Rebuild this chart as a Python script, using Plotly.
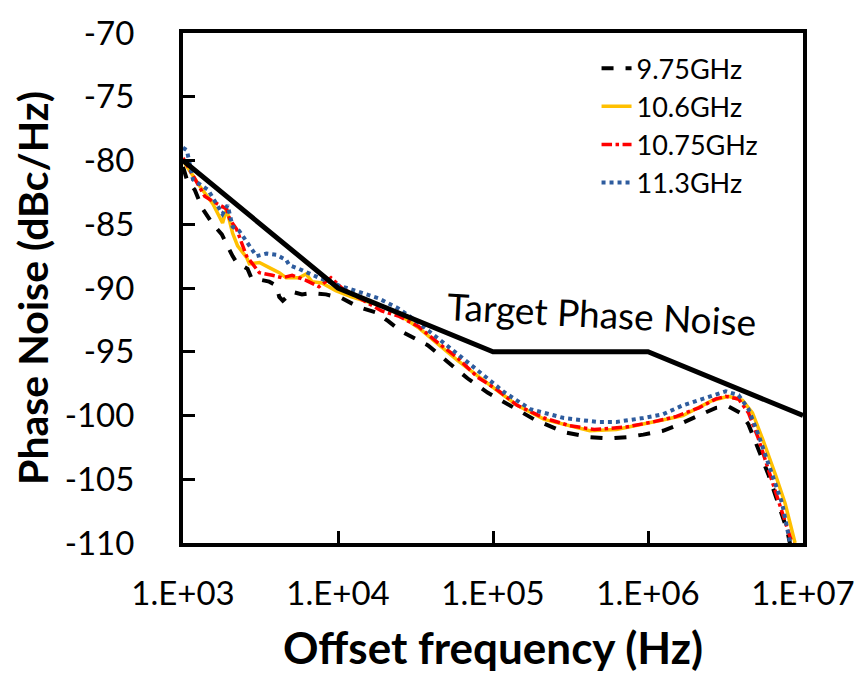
import plotly.graph_objects as go

# ---------------- data ----------------
f_975 = [1.0e3, 1.06e3, 1.19e3, 1.34e3, 1.56e3, 1.78e3, 2.09e3, 2.22e3, 2.61e3, 2.76e3,
         3.6e3, 4.0e3, 4.18e3, 4.4e3, 5.06e3, 5.86e3, 6.79e3, 8.35e3, 1.06e4, 1.36e4,
         1.74e4, 2.11e4, 2.56e4, 3.81e4, 5.11e4, 6.87e4, 9.22e4, 1.29e5, 1.84e5, 2.87e5,
         4.21e5, 5.65e5, 7.26e5, 9.33e5, 1.25e6, 1.52e6, 2.13e6, 2.74e6, 3.31e6, 3.95e6,
         4.45e6, 5.15e6, 5.97e6, 6.92e6, 7.9e6, 8.4e6]
pn_975 = [-80.5, -81.5, -82.3, -83.8, -85.0, -85.8, -87.5, -88.0, -88.5, -89.2,
          -89.5, -89.8, -90.7, -91.0, -90.3, -90.5, -90.4, -90.5, -90.8, -91.5,
          -91.9, -92.6, -93.4, -94.5, -95.8, -97.1, -98.2, -99.2, -100.3, -101.3,
          -101.7, -101.8, -101.7, -101.5, -101.2, -100.8, -100.0, -99.4, -99.3, -99.8,
          -100.7, -102.6, -104.6, -106.9, -109.0, -110.5]

f_106 = [1.0e3, 1.28e3, 1.56e3, 1.80e3, 1.91e3, 2.09e3, 2.25e3, 2.57e3, 2.68e3, 3.11e3,
         3.6e3, 4.18e3, 4.63e3, 5.61e3, 6.22e3, 6.79e3, 7.87e3, 9.67e3, 1.22e4, 1.57e4,
         2.02e4, 2.56e4, 3.29e4, 4.42e4, 5.93e4, 7.96e4, 1.07e5, 1.43e5, 2.14e5, 3.13e5,
         4.21e5, 6.26e5, 9.33e5, 1.31e6, 1.68e6, 2.62e6, 3.31e6, 4.07e6, 4.72e6, 5.47e6,
         6.62e6, 7.67e6, 8.89e6]
pn_106 = [-80.0, -82.0, -83.4, -84.9, -83.8, -85.7, -86.7, -87.6, -88.1, -88.0,
          -88.4, -88.8, -89.2, -89.2, -88.9, -89.5, -89.6, -90.2, -90.7, -91.1,
          -91.5, -92.2, -93.1, -94.4, -95.7, -96.9, -98.1, -99.2, -100.3, -100.8,
          -101.2, -101.1, -100.7, -100.3, -100.0, -98.8, -98.5, -98.8, -99.8, -101.8,
          -104.6, -106.9, -110.0]

f_1075 = [1.0e3, 1.38e3, 1.56e3, 1.91e3, 2.0e3, 2.22e3, 2.57e3, 3.11e3, 3.77e3, 4.37e3,
          5.06e3, 6.22e3, 7.53e3, 9.0e3, 1.06e4, 1.5e4, 1.91e4, 2.45e4, 3.29e4, 4.42e4,
          5.93e4, 7.96e4, 1.07e5, 1.43e5, 2.14e5, 3.13e5, 4.5e5, 7.26e5, 1.08e6, 1.5e6,
          2.13e6, 2.74e6, 3.17e6, 3.84e6, 4.45e6, 5.15e6, 5.97e6, 6.92e6, 7.9e6, 8.6e6]
pn_1075 = [-79.8, -82.8, -83.2, -83.8, -84.6, -85.4, -87.5, -88.8, -89.0, -89.2,
           -89.0, -89.4, -89.9, -89.2, -90.0, -91.1, -91.8, -92.2, -93.0, -94.3,
           -95.5, -97.0, -98.0, -99.2, -100.2, -100.8, -101.1, -100.9, -100.5, -100.1,
           -99.4, -98.7, -98.5, -98.7, -99.8, -101.8, -104.2, -106.6, -108.8, -110.2]

f_113 = [1.0e3, 1.06e3, 1.16e3, 1.45e3, 1.80e3, 1.94e3, 2.09e3, 2.3e3, 2.98e3, 3.45e3,
         4.0e3, 4.63e3, 4.84e3, 5.61e3, 7.53e3, 1.01e4, 1.36e4, 1.82e4, 2.45e4, 3.29e4,
         5.67e4, 8.32e4, 1.19e5, 1.74e5, 2.87e5, 4.67e5, 6.26e5, 9.33e5, 1.25e6, 1.68e6,
         2.47e6, 3.17e6, 3.84e6, 4.45e6, 5.15e6, 6.33e6, 7.34e6, 8.26e6]
pn_113 = [-79.0, -79.2, -81.5, -82.3, -84.2, -83.5, -85.2, -85.5, -87.5, -87.3,
          -87.4, -87.8, -88.2, -88.5, -89.2, -89.8, -90.3, -90.8, -91.6, -92.7,
          -95.0, -96.7, -98.2, -99.5, -100.2, -100.5, -100.5, -100.2, -99.9, -99.2,
          -98.5, -98.1, -98.4, -99.5, -101.5, -104.6, -106.9, -110.0]

f_target = [1e3, 1e4, 1e5, 1e6, 1e7]
pn_target = [-80, -90, -95, -95, -100]

x_tickvals = [1e3, 1e4, 1e5, 1e6, 1e7]
x_ticktext = ["1.E+03", "1.E+04", "1.E+05", "1.E+06", "1.E+07"]
y_tickvals = [-70, -75, -80, -85, -90, -95, -100, -105, -110]
y_ticktext = ["-70", "-75", "-80", "-85", "-90", "-95", "-100", "-105", "-110"]

FONT = "Lato"

fig = go.Figure()
series = [
    ("9.75GHz", f_975, pn_975, dict(color="black", width=4, dash="dash")),
    ("10.6GHz", f_106, pn_106, dict(color="#FFC000", width=3.5, dash="solid")),
    ("10.75GHz", f_1075, pn_1075, dict(color="#FF0000", width=3.5, dash="dashdot")),
    ("11.3GHz", f_113, pn_113, dict(color="#2E5C9E", width=4, dash="dot")),
]
for i, (name, fx, fy, ln) in enumerate(series):
    fig.add_trace(go.Scatter(x=fx, y=fy, mode="lines", name=name, line=ln,
                             legendgroup=f"g{i}"))

fig.add_trace(go.Scatter(x=f_target, y=pn_target, mode="lines", showlegend=False,
                         line=dict(color="black", width=5)))

fig.add_annotation(x=5.70, y=-92.0, xref="x", yref="y", text="Target Phase Noise",
                   showarrow=False, textangle=3,
                   font=dict(family=FONT, size=37, color="black"))

fig.update_layout(
    width=867, height=682,
    margin=dict(l=183, r=59, t=23, b=139),
    paper_bgcolor="white", plot_bgcolor="white",
    font=dict(family=FONT, color="black"),
    showlegend=True,
    legend=dict(x=0.667, y=0.978, xanchor="left", yanchor="top",
                bgcolor="rgba(0,0,0,0)", font=dict(family=FONT, size=27),
                tracegroupgap=0),
)
fig.update_xaxes(
    type="log", range=[3, 7], tickvals=x_tickvals, ticktext=x_ticktext,
    showgrid=False, zeroline=False,
    showline=True, linecolor="black", linewidth=4, mirror=True,
    ticks="inside", ticklen=12, tickwidth=3, tickcolor="black",
    tickfont=dict(family=FONT, size=33), ticklabelstandoff=18,
    title=dict(text="<b>Offset frequency (Hz)</b>", font=dict(family=FONT, size=44),
               standoff=24),
)
fig.update_yaxes(
    range=[-110, -70], tickvals=y_tickvals, ticktext=y_ticktext,
    showgrid=False, zeroline=False,
    showline=True, linecolor="black", linewidth=4, mirror=True,
    ticks="inside", ticklen=12, tickwidth=3, tickcolor="black",
    tickfont=dict(family=FONT, size=33), ticklabelstandoff=38,
    title=dict(text="<b>Phase Noise (dBc/Hz)</b>", font=dict(family=FONT, size=41),
               standoff=4),
)

fig.write_html("out.html")
